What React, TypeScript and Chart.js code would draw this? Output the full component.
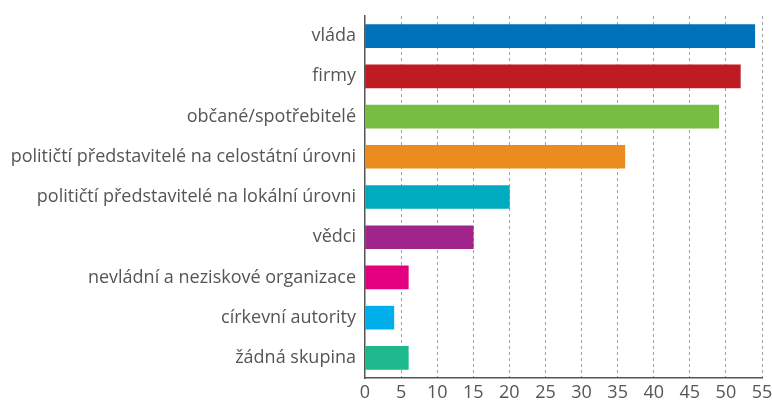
import React, { useEffect, useRef } from "react";
import { Chart, registerables } from "chart.js";

Chart.register(...registerables);

const categories = [
  "vláda",
  "firmy",
  "občané/spotřebitelé",
  "političtí představitelé na celostátní úrovni",
  "političtí představitelé na lokální úrovni",
  "vědci",
  "nevládní a neziskové organizace",
  "církevní autority",
  "žádná skupina",
];
const values = [54, 52, 49, 36, 20, 15, 6, 4, 6];
const barColors = [
  "#0071bb",
  "#be1b22",
  "#77bd43",
  "#ea8c1e",
  "#00aabf",
  "#a2258e",
  "#e3007f",
  "#00aeeb",
  "#1db98c",
];
const xTicks = [0, 5, 10, 15, 20, 25, 30, 35, 40, 45, 50, 55];

export default function App() {
  const ref = useRef<HTMLCanvasElement>(null);
  useEffect(() => {
    if (!ref.current) return;
    const font = "'Open Sans', 'Noto Sans', sans-serif";
    const chart = new Chart(ref.current, {
      type: "bar",
      data: {
        labels: categories,
        datasets: [
          {
            data: values,
            backgroundColor: barColors,
            barThickness: 23,
            borderWidth: 0,
          },
        ],
      },
      options: {
        indexAxis: "y",
        animation: false,
        responsive: false,
        layout: { padding: { top: 16, right: 10, left: 0, bottom: 0 } },
        plugins: { legend: { display: false }, tooltip: { enabled: false } },
        scales: {
          x: {
            min: 0,
            max: 55,
            afterBuildTicks: (s: any) => {
              s.ticks = xTicks.map((v) => ({ value: v }));
            },
            afterFit: (s: any) => {
              s.height = 25;
              s.paddingRight = 10;
              s.paddingLeft = 0;
            },
            grid: {
              drawTicks: false,
              color: (ctx: any) => (ctx.index === 0 ? "rgba(0,0,0,0)" : "#a0a0a0"),
              lineWidth: 1,
            },
            border: { color: "#555", width: 1.5, dash: [3, 3] },
            ticks: {
              color: "#555",
              padding: 4,
              font: { family: font, size: 18 },
            },
          },
          y: {
            afterFit: (s: any) => {
              s.width = 365;
              s.paddingTop = 0;
              s.paddingBottom = 0;
            },
            grid: { display: false, drawTicks: false },
            border: { color: "#555", width: 1.5 },
            ticks: {
              color: "#555",
              padding: 9,
              font: { family: font, size: 18 },
            },
          },
        },
      },
    });
    return () => chart.destroy();
  }, []);
  return (
    <div style={{ position: "fixed", left: 0, top: 0, width: 772, height: 403, background: "#fff" }}>
      <canvas ref={ref} width={772} height={403} />
    </div>
  );
}
